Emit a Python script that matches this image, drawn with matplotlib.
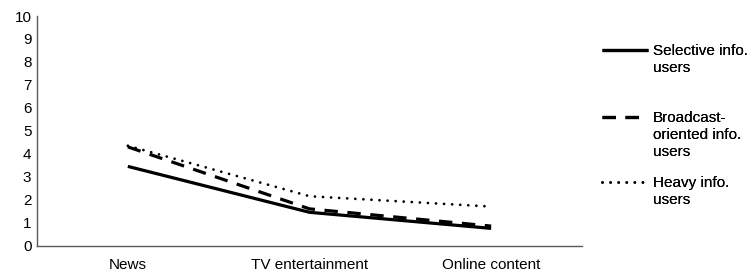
import matplotlib
matplotlib.use("Agg")
import matplotlib.pyplot as plt
from matplotlib.lines import Line2D

plt.rcParams['font.family'] = ['Liberation Sans', 'DejaVu Sans']

categories = ["News", "TV entertainment", "Online content"]
selective = [3.45, 1.45, 0.75]
broadcast = [4.3, 1.6, 0.85]
heavy = [4.35, 2.15, 1.7]
legend_groups = [
    ["Selective info.", "users"],
    ["Broadcast-", "oriented info.", "users"],
    ["Heavy info.", "users"],
]
yticks = list(range(0, 11))

W, H = 754, 272
fig = plt.figure(figsize=(W/100, H/100), dpi=100)
ax = fig.add_axes([37/W, 1-245.6/H, (582-37)/W, (245.6-16)/H])

x = list(range(len(categories)))
styles = [
    dict(color='black', lw=2.3, linestyle='-', solid_capstyle='butt'),
    dict(color='black', lw=2.3, dashes=(4.2, 3.0), dash_capstyle='butt'),
    dict(color='black', lw=2.0, dashes=(0.01, 2.9), dash_capstyle='round'),
]
series = [selective, broadcast, heavy]
for s, st in zip(series, styles):
    ax.plot(x, s, **st)

ax.set_xlim(-0.5, len(categories)-0.5)
ax.set_ylim(0, 10)
ax.set_yticks(yticks)
ax.set_xticks(x)
ax.set_xticklabels(categories)
ax.tick_params(axis='both', length=0, labelsize=11, colors='black')
ax.tick_params(axis='y', pad=4)
ax.tick_params(axis='x', pad=9)
for sp in ['top', 'right']:
    ax.spines[sp].set_visible(False)
for sp in ['left', 'bottom']:
    ax.spines[sp].set_color('#595959')
    ax.spines[sp].set_linewidth(1.0)

tops = [44, 111, 176]
for grp, st, top in zip(legend_groups, styles, tops):
    hs = [Line2D([], [], **st)]
    hs += [Line2D([], [], linestyle='none')] * (len(grp)-1)
    leg = fig.legend(hs, grp, loc='upper left', bbox_to_anchor=(602/W, 1-top/H),
                     frameon=False, fontsize=11, handlelength=3.0, handletextpad=0.35,
                     borderpad=0, borderaxespad=0, labelspacing=0.18)
    fig.add_artist(leg)

fig.savefig("out.png", dpi=100)
